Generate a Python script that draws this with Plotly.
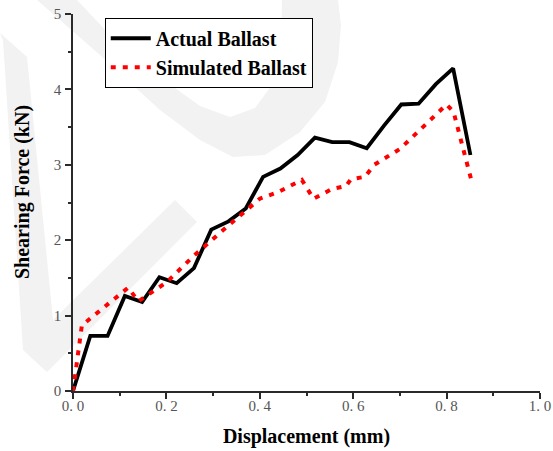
import plotly.graph_objects as go

# Actual ballast
actual_x = [0.0, 0.037, 0.074, 0.111, 0.148, 0.185, 0.222, 0.259, 0.296, 0.333,
            0.370, 0.407, 0.444, 0.481, 0.518, 0.555, 0.592, 0.629, 0.666, 0.703,
            0.740, 0.777, 0.814, 0.851]
actual_y = [0.0, 0.73, 0.73, 1.26, 1.18, 1.51, 1.43, 1.63, 2.14, 2.25,
            2.42, 2.84, 2.95, 3.13, 3.36, 3.30, 3.30, 3.22, 3.52, 3.80,
            3.81, 4.07, 4.28, 3.13]

# Simulated ballast
sim_x = [0.0, 0.019, 0.118, 0.140, 0.200, 0.260, 0.330, 0.400, 0.440, 0.490,
         0.515, 0.555, 0.585, 0.595, 0.625, 0.645, 0.700, 0.800, 0.815, 0.852]
sim_y = [0.0, 0.87, 1.37, 1.19, 1.44, 1.80, 2.18, 2.55, 2.64, 2.80,
         2.55, 2.68, 2.72, 2.81, 2.84, 3.00, 3.21, 3.80, 3.70, 2.82]

x_ticks = [0.0, 0.2, 0.4, 0.6, 0.8, 1.0]
x_tick_labels = ["0. 0", "0. 2", "0. 4", "0. 6", "0. 8", "1. 0"]
y_ticks = [0, 1, 2, 3, 4, 5]
y_tick_labels = ["0", "1", "2", "3", "4", "5"]

x_title = "Displacement (mm)"
y_title = "Shearing Force (kN)"

SERIF = "Liberation Serif"

W, H = 553, 451
L, R, T, B = 73, 13, 14, 60
PW, PH = W - L - R, H - T - B


def to_paper(px, py):
    # pixel -> paper coordinates (decorative watermark only)
    return (px - L) / PW, (H - B - py) / PH


def poly_path(points):
    pts = [to_paper(px, py) for px, py in points]
    return "M " + " L ".join(f"{x:.4f},{y:.4f}" for x, y in pts) + " Z"


watermark_check = [(0, 33), (27, 57), (53, 320), (175, 200), (197, 222),
                   (47, 372), (23, 350), (3, 40)]
watermark_arc = [(37, 0), (100, 55), (160, 110), (200, 140), (233, 157),
                 (265, 155), (300, 132), (325, 102), (338, 62), (341, 25), (338, 0),
                 (282, 0), (281, 45), (272, 85), (255, 108), (230, 117),
                 (200, 106), (150, 70), (110, 35), (77, 0)]

fig = go.Figure()
fig.add_trace(go.Scatter(x=actual_x, y=actual_y, mode="lines", name="Actual Ballast",
                         line=dict(color="black", width=3.8)))
fig.add_trace(go.Scatter(x=sim_x, y=sim_y, mode="lines", name="Simulated Ballast",
                         line=dict(color="#ff0000", width=4, dash="5px,7px")))

axis_common = dict(
    showgrid=False, zeroline=False, showline=True, linecolor="#2a2a2a", linewidth=1.5,
    ticks="outside", tickcolor="#2a2a2a", tickwidth=1.5, ticklen=6,
    tickfont=dict(family=SERIF, size=15, color="#555555"),
    mirror=False, automargin=False, ticklabeloverflow="allow",
)

fig.update_xaxes(range=[0, 1.0], tickvals=x_ticks, ticktext=x_tick_labels,
                 ticklabelstandoff=-6,
                 minor=dict(dtick=0.1, ticks="outside", ticklen=3, tickcolor="#2a2a2a", tickwidth=1.5),
                 title=dict(text=x_title, standoff=16,
                            font=dict(family=SERIF, size=20, color="black", weight="bold")),
                 **axis_common)
fig.update_yaxes(range=[0, 5], tickvals=y_ticks, ticktext=y_tick_labels,
                 ticklabelstandoff=1,
                 minor=dict(dtick=0.5, ticks="outside", ticklen=3, tickcolor="#2a2a2a", tickwidth=1.5),
                 **axis_common)

fig.add_annotation(text=y_title, textangle=-90, xref="paper", yref="paper",
                   x=to_paper(22, 0)[0], y=to_paper(0, 192)[1],
                   xanchor="center", yanchor="middle", showarrow=False,
                   font=dict(family=SERIF, size=20, color="black", weight="bold"))

shapes = [dict(type="path", xref="paper", yref="paper", path=poly_path(p),
               fillcolor="#f2f2f2", line=dict(width=0), layer="below")
          for p in (watermark_check, watermark_arc)]

fig.update_layout(
    width=W, height=H,
    margin=dict(l=L, r=R, t=T, b=B),
    plot_bgcolor="rgba(0,0,0,0)", paper_bgcolor="white",
    shapes=shapes,
    legend=dict(x=0.068, y=0.99, xanchor="left", yanchor="top",
                bgcolor="white", bordercolor="black", borderwidth=1,
                font=dict(family=SERIF, size=20, color="black", weight="bold"),
                itemwidth=40, tracegroupgap=0),
    showlegend=True,
)

fig.write_html("out.html", config={"displayModeBar": False},
               post_script="document.body.style.margin='0';")
